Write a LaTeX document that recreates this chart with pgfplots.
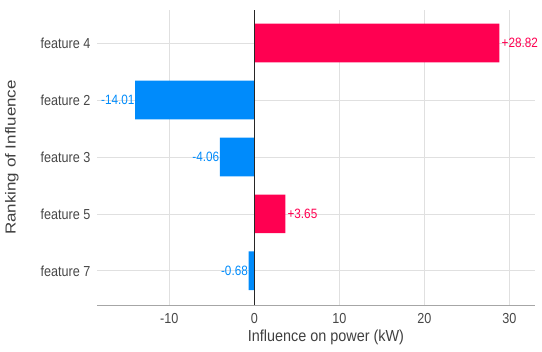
\documentclass[border=0pt]{standalone}
\usepackage{pgfplots}
\pgfplotsset{compat=1.18}
\usepackage{fontspec}
\setmainfont{Liberation Sans}
\newfontfamily\condfont[FakeStretch=0.87]{Liberation Sans}
\newfontfamily\xlabfont[FakeStretch=0.9]{Liberation Sans}
\newfontfamily\widefont[FakeStretch=1.17]{Liberation Sans}
\definecolor{shapred}{HTML}{FF0051}
\definecolor{shapblue}{HTML}{008BFB}
\definecolor{gridc}{HTML}{E0E0E0}
\begin{document}
\begin{tikzpicture}
\begin{axis}[
  name=ax,
  scale only axis,
  width=438pt, height=295pt,
  xmin=-18.5, xmax=33,
  ymin=-0.6, ymax=4.58,
  xbar, bar width=0.68, bar shift=0pt,
  ytick={0,1,2,3,4},
  yticklabels={feature 7, feature 5, feature 3, feature 2, feature 4},
  xtick={-10,0,10,20,30},
  /pgf/number format/assume math mode=true,
  tick label style={font=\condfont\fontsize{14.5}{16}\selectfont, text=black!72},
  major tick length=0pt,
  grid=major,
  major grid style={gridc, line width=0.7pt},
  axis line style={draw=none},
  axis x line*=bottom,
  axis y line*=left,
  xlabel={Influence on power (kW)},
  ylabel={Ranking of Influence},
  xlabel style={font=\xlabfont\fontsize{16}{18}\selectfont, text=black!75,
    at={(axis description cs:0.5,0)}, anchor=north, yshift=-21pt, xshift=10pt},
  ylabel style={font=\widefont\fontsize{14.5}{16}\selectfont, text=black!75,
    at={(axis description cs:-0.171,0.5)}, anchor=south},
  yticklabel style={xshift=-3pt},
  xticklabel style={yshift=-5pt},
  nodes near coords,
  point meta=x,
  every node near coord/.append style={font=\condfont\fontsize{13.5}{15}\selectfont,
    /pgf/number format/fixed, /pgf/number format/fixed zerofill,
    /pgf/number format/precision=2, /pgf/number format/print sign},
  clip=false,
]
\addplot[draw=none, fill=shapred,
  nodes near coords style={text=shapred, anchor=west, inner sep=2pt}]
  coordinates {(28.82,4) (3.65,1)};
\addplot[draw=none, fill=shapblue,
  nodes near coords style={text=shapblue, anchor=east, inner sep=0.5pt}]
  coordinates {(-14.01,3) (-4.06,2) (-0.68,0)};
\draw[black!35, line width=0.9pt] (axis cs:-18.5,-0.6) -- (axis cs:33,-0.6);
\draw[black!85, line width=0.8pt] (axis cs:0,-0.6) -- (axis cs:0,4.58);
\end{axis}
\path ([shift={(-97pt,-46pt)}]ax.south west) rectangle ([shift={(7pt,10pt)}]ax.north east);
\end{tikzpicture}
\end{document}
